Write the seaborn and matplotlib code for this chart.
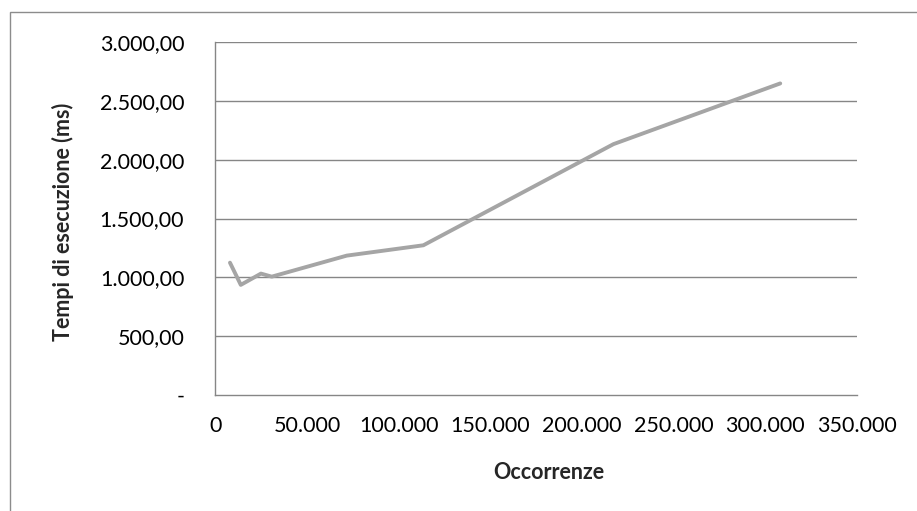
import matplotlib
matplotlib.use("Agg")
import matplotlib.pyplot as plt
import seaborn as sns
import pandas as pd
from matplotlib.patches import Rectangle

# Occurrences vs. execution time (ms)
occorrenze = [7900, 13800, 24800, 30700, 71600, 113400, 217100, 308100]
tempi_ms = [1124, 935, 1031, 1005, 1184, 1272, 2133, 2650]

y_ticks = [0, 500, 1000, 1500, 2000, 2500, 3000]
y_tick_labels = ["-", "500,00", "1.000,00", "1.500,00", "2.000,00", "2.500,00", "3.000,00"]
x_ticks = [0, 50000, 100000, 150000, 200000, 250000, 300000, 350000]
x_tick_labels = ["0", "50.000", "100.000", "150.000", "200.000", "250.000", "300.000", "350.000"]

df = pd.DataFrame({"Occorrenze": occorrenze, "Tempi": tempi_ms})

sns.set_theme(style="white")
plt.rcParams["font.family"] = ["Lato", "DejaVu Sans"]

fig = plt.figure(figsize=(9.17, 5.11), dpi=100)
ax = fig.add_axes([0.235, 0.2276, 0.6996, 0.6896])

grid_color = "#868686"
for yv in y_ticks[1:]:
    ax.axhline(yv, color=grid_color, lw=1.0, zorder=1)

sns.lineplot(data=df, x="Occorrenze", y="Tempi", ax=ax, color="#A5A5A5",
             lw=2.8, sort=False, zorder=3)

ax.set_xlim(0, 350000)
ax.set_ylim(0, 3000)
ax.set_xticks(x_ticks)
ax.set_xticklabels(x_tick_labels)
ax.set_yticks(y_ticks)
ax.set_yticklabels(y_tick_labels)
ax.tick_params(axis="both", length=0, labelsize=15.5, colors="black")
ax.tick_params(axis="y", pad=22.5)
ax.tick_params(axis="x", pad=15)

for side in ["top", "right"]:
    ax.spines[side].set_visible(False)
for side in ["left", "bottom"]:
    ax.spines[side].set_color(grid_color)
    ax.spines[side].set_linewidth(1.0)

ax.set_xlabel("Occorrenze", fontsize=15.5, fontweight="bold", va="center")
ax.set_ylabel("Tempi di esecuzione (ms)", fontsize=15.5, fontweight="bold", va="center")
ax.xaxis.set_label_coords(0.52, -0.222)
ax.yaxis.set_label_coords(-0.2377, 0.49)

# outer chart frame
fig.patches.append(Rectangle((10 / 917, -0.05), 1.2, 1 - 12 / 511 + 0.05,
                             transform=fig.transFigure, fill=False,
                             edgecolor="#8C8C8C", lw=1.0))

fig.savefig("out.png", dpi=100)
